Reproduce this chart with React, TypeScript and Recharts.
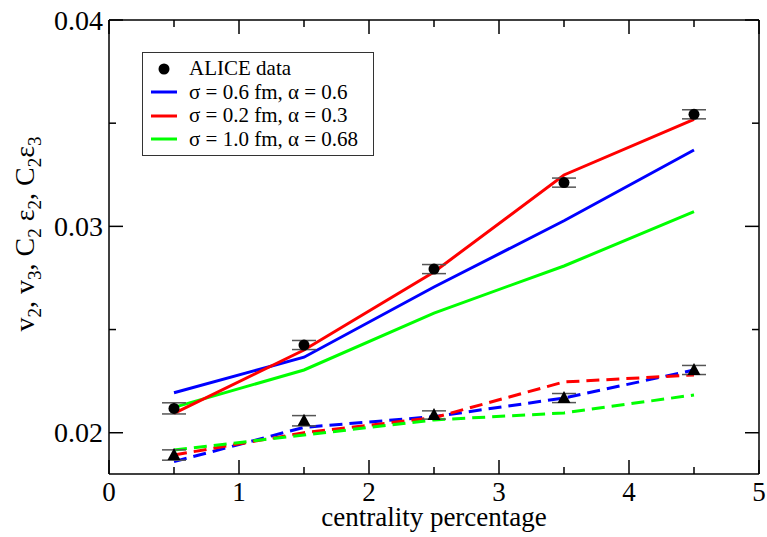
import React from 'react';
import { ComposedChart, Line, Scatter, ErrorBar, XAxis, YAxis, Legend } from 'recharts';

const centrality = [0.5, 1.5, 2.5, 3.5, 4.5];
const aliceV2 = [0.02118, 0.02425, 0.02793, 0.03212, 0.03543];
const aliceV2Err = [0.00027, 0.00022, 0.00022, 0.00022, 0.00022];
const aliceV3 = [0.01892, 0.02058, 0.02086, 0.02168, 0.02304];
const aliceV3Err = [0.00025, 0.00025, 0.0002, 0.00022, 0.00022];
const blueV2 = [0.02194, 0.02366, 0.02706, 0.03027, 0.0337];
const redV2 = [0.02094, 0.02401, 0.02779, 0.03249, 0.03519];
const greenV2 = [0.02123, 0.02304, 0.0258, 0.02808, 0.03071];
const blueV3 = [0.0186, 0.02026, 0.02078, 0.02168, 0.02304];
const redV3 = [0.01892, 0.02, 0.02073, 0.02246, 0.0228];
const greenV3 = [0.01916, 0.01989, 0.02062, 0.02096, 0.02183];

const xTicks = [0, 0.5, 1, 1.5, 2, 2.5, 3, 3.5, 4, 4.5, 5];
const yTicks = [0.02, 0.025, 0.03, 0.035, 0.04];

const legendItems = [
  { label: 'ALICE data', color: '#000', dot: true },
  { label: 'σ = 0.6 fm, α = 0.6', color: '#0000ff' },
  { label: 'σ = 0.2 fm, α = 0.3', color: '#ff0000' },
  { label: 'σ = 1.0 fm, α = 0.68', color: '#00ff00' },
];

const rows = centrality.map((x, i) => ({
  x,
  v2: aliceV2[i],
  v2Err: aliceV2Err[i],
  v3: aliceV3[i],
  v3Err: aliceV3Err[i],
  blueV2: blueV2[i],
  redV2: redV2[i],
  greenV2: greenV2[i],
  blueV3: blueV3[i],
  redV3: redV3[i],
  greenV3: greenV3[i],
}));

const FONT = '"Liberation Serif", "Times New Roman", serif';
const isMajorX = (v: number) => Number.isInteger(v);
const isMajorY = (v: number) => Math.abs(v * 100 - Math.round(v * 100)) < 1e-6;

const BottomTick = (props: any) => {
  const { x, y, payload } = props;
  const major = isMajorX(payload.value);
  return (
    <g>
      <line x1={x} x2={x} y1={y} y2={y - (major ? 14 : 7)} stroke="#000" strokeWidth={1.5} />
      {major && (
        <text x={x} y={y + 27} textAnchor="middle" fontSize={27} fontFamily={FONT} fill="#000">
          {payload.value}
        </text>
      )}
    </g>
  );
};

const TopTick = (props: any) => {
  const { x, y, payload } = props;
  const major = isMajorX(payload.value);
  return <line x1={x} x2={x} y1={y} y2={y + (major ? 14 : 7)} stroke="#000" strokeWidth={1.5} />;
};

const LeftTick = (props: any) => {
  const { x, y, payload } = props;
  const major = isMajorY(payload.value);
  return (
    <g>
      <line x1={x} x2={x + (major ? 14 : 7)} y1={y} y2={y} stroke="#000" strokeWidth={1.5} />
      {major && (
        <text x={x - 6} y={y} dy="0.34em" textAnchor="end" fontSize={28} fontFamily={FONT} fill="#000">
          {payload.value.toFixed(2)}
        </text>
      )}
    </g>
  );
};

const RightTick = (props: any) => {
  const { x, y, payload } = props;
  const major = isMajorY(payload.value);
  return <line x1={x} x2={x - (major ? 14 : 7)} y1={y} y2={y} stroke="#000" strokeWidth={1.5} />;
};

const YTitle = () => (
  <text
    x={34}
    y={234}
    transform="rotate(-90 34 234)"
    textAnchor="middle"
    fontSize={28}
    fontFamily={FONT}
    fill="#000"
  >
    v<tspan fontSize={19} dy={7}>2</tspan>
    <tspan dy={-7}>, v</tspan>
    <tspan fontSize={19} dy={7}>3</tspan>
    <tspan dy={-7}>, C</tspan>
    <tspan fontSize={19} dy={7}>2</tspan>
    <tspan dy={-7}> ε</tspan>
    <tspan fontSize={19} dy={7}>2</tspan>
    <tspan dy={-7}>, C</tspan>
    <tspan fontSize={19} dy={7}>2</tspan>
    <tspan dy={-7}>ε</tspan>
    <tspan fontSize={19} dy={7}>3</tspan>
  </text>
);

const XTitle = (props: any) => {
  const { viewBox } = props;
  return (
    <text
      x={viewBox.x + viewBox.width / 2}
      y={526}
      textAnchor="middle"
      fontSize={27}
      fontFamily={FONT}
      fill="#000"
    >
      centrality percentage
    </text>
  );
};

const LegendBox = () => (
  <div
    style={{
      border: '1.5px solid #333',
      background: '#fff',
      width: 230,
      padding: '4px 0 4px 0',
      fontFamily: FONT,
      fontSize: 21,
      color: '#000',
    }}
  >
    {legendItems.map((item) => (
      <div key={item.label} style={{ display: 'flex', alignItems: 'center', height: 23.5 }}>
        <svg width={46} height={20}>
          {item.dot ? (
            <circle cx={21} cy={10} r={5.5} fill="#000" />
          ) : (
            <line x1={8} x2={34} y1={10} y2={10} stroke={item.color} strokeWidth={3} />
          )}
        </svg>
        <span>{item.label}</span>
      </div>
    ))}
  </div>
);

const circleShape = (p: any) => <circle cx={p.cx} cy={p.cy} r={5.5} fill="#000" />;
const triangleShape = (p: any) => (
  <polygon
    points={`${p.cx},${p.cy - 7} ${p.cx - 6.5},${p.cy + 5} ${p.cx + 6.5},${p.cy + 5}`}
    fill="#000"
  />
);

export default function App() {
  return (
    <div style={{ position: 'absolute', left: 0, top: 0, background: '#fff' }}>
      <ComposedChart width={767} height={537} data={rows} margin={{ top: 19, right: 7, left: 0, bottom: 0 }}>
        <XAxis
          xAxisId="bottom"
          type="number"
          dataKey="x"
          domain={[0, 5]}
          ticks={xTicks}
          interval={0}
          height={63}
          tickSize={0}
          tickMargin={0}
          tickLine={false}
          tick={<BottomTick />}
          axisLine={{ stroke: '#000', strokeWidth: 1.5 }}
          label={{ content: (p: any) => <XTitle {...p} /> }}
        />
        <XAxis
          xAxisId="top"
          orientation="top"
          type="number"
          dataKey="x"
          domain={[0, 5]}
          ticks={xTicks}
          interval={0}
          height={1}
          tickSize={0}
          tickMargin={0}
          tickLine={false}
          tick={<TopTick />}
          axisLine={{ stroke: '#000', strokeWidth: 1.5 }}
        />
        <YAxis
          yAxisId="left"
          type="number"
          domain={[0.018, 0.04]}
          ticks={yTicks}
          interval={0}
          width={109}
          tickSize={0}
          tickMargin={0}
          tickLine={false}
          tick={<LeftTick />}
          axisLine={{ stroke: '#000', strokeWidth: 1.5 }}
          label={{ content: () => <YTitle /> }}
        />
        <YAxis
          yAxisId="right"
          orientation="right"
          type="number"
          domain={[0.018, 0.04]}
          ticks={yTicks}
          interval={0}
          width={1}
          tickSize={0}
          tickMargin={0}
          tickLine={false}
          tick={<RightTick />}
          axisLine={{ stroke: '#000', strokeWidth: 1.5 }}
        />
        <Legend
          layout="vertical"
          align="center"
          verticalAlign="middle"
          content={() => <LegendBox />}
          wrapperStyle={{ position: 'absolute', left: 142, top: 52, width: 'auto' }}
        />
        {/* invisible series so the mirrored top/right axes get drawn */}
        <Line xAxisId="top" yAxisId="right" dataKey="v2" stroke="none" dot={false} legendType="none" isAnimationActive={false} />
        <Line xAxisId="bottom" yAxisId="left" dataKey="blueV2" stroke="#0000ff" strokeWidth={3} dot={false} isAnimationActive={false} type="linear" />
        <Line xAxisId="bottom" yAxisId="left" dataKey="greenV2" stroke="#00ff00" strokeWidth={3} dot={false} isAnimationActive={false} type="linear" />
        <Line xAxisId="bottom" yAxisId="left" dataKey="redV2" stroke="#ff0000" strokeWidth={3} dot={false} isAnimationActive={false} type="linear" />
        <Line xAxisId="bottom" yAxisId="left" dataKey="blueV3" stroke="#0000ff" strokeWidth={3} strokeDasharray="13 7" dot={false} isAnimationActive={false} type="linear" />
        <Line xAxisId="bottom" yAxisId="left" dataKey="redV3" stroke="#ff0000" strokeWidth={3} strokeDasharray="13 7" dot={false} isAnimationActive={false} type="linear" />
        <Line xAxisId="bottom" yAxisId="left" dataKey="greenV3" stroke="#00ff00" strokeWidth={3} strokeDasharray="13 7" dot={false} isAnimationActive={false} type="linear" />
        <Scatter xAxisId="bottom" yAxisId="left" dataKey="v2" shape={circleShape} isAnimationActive={false}>
          <ErrorBar dataKey="v2Err" direction="y" width={12} stroke="#555" strokeWidth={1.5} />
        </Scatter>
        <Scatter xAxisId="bottom" yAxisId="left" dataKey="v3" shape={triangleShape} isAnimationActive={false}>
          <ErrorBar dataKey="v3Err" direction="y" width={12} stroke="#555" strokeWidth={1.5} />
        </Scatter>
      </ComposedChart>
    </div>
  );
}
